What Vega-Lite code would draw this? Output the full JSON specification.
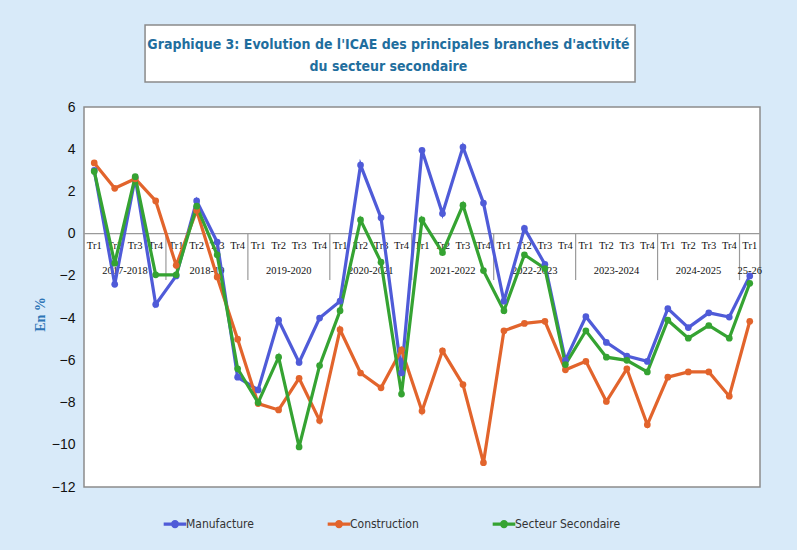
{
  "$schema": "https://vega.github.io/schema/vega-lite/v6.json",
  "width": 676,
  "height": 380,
  "autosize": {"type": "none"},
  "padding": {"left": 84, "top": 107, "right": 37, "bottom": 63},
  "background": "#d8eaf9",
  "config": {
    "view": {"fill": "white", "stroke": "#8c8c8c", "strokeWidth": 1.5},
    "font": "Liberation Sans"
  },
  "datasets": {
    "icae": [
      {"i": 1, "tr": "Tr1", "Manufacture": 3.0, "Construction": 3.35, "Secteur Secondaire": 2.95},
      {"i": 2, "tr": "Tr2", "Manufacture": -2.4, "Construction": 2.15, "Secteur Secondaire": -1.4},
      {"i": 3, "tr": "Tr3", "Manufacture": 2.65, "Construction": 2.6, "Secteur Secondaire": 2.7},
      {"i": 4, "tr": "Tr4", "Manufacture": -3.35, "Construction": 1.55, "Secteur Secondaire": -1.95},
      {"i": 5, "tr": "Tr1", "Manufacture": -2.0, "Construction": -1.5, "Secteur Secondaire": -1.95},
      {"i": 6, "tr": "Tr2", "Manufacture": 1.55, "Construction": 1.1, "Secteur Secondaire": 1.3},
      {"i": 7, "tr": "Tr3", "Manufacture": -0.4, "Construction": -2.05, "Secteur Secondaire": -1.0},
      {"i": 8, "tr": "Tr4", "Manufacture": -6.8, "Construction": -5.0, "Secteur Secondaire": -6.4},
      {"i": 9, "tr": "Tr1", "Manufacture": -7.4, "Construction": -8.05, "Secteur Secondaire": -8.0},
      {"i": 10, "tr": "Tr2", "Manufacture": -4.1, "Construction": -8.35, "Secteur Secondaire": -5.85},
      {"i": 11, "tr": "Tr3", "Manufacture": -6.1, "Construction": -6.85, "Secteur Secondaire": -10.1},
      {"i": 12, "tr": "Tr4", "Manufacture": -4.0, "Construction": -8.85, "Secteur Secondaire": -6.25},
      {"i": 13, "tr": "Tr1", "Manufacture": -3.2, "Construction": -4.55, "Secteur Secondaire": -3.65},
      {"i": 14, "tr": "Tr2", "Manufacture": 3.25, "Construction": -6.6, "Secteur Secondaire": 0.65},
      {"i": 15, "tr": "Tr3", "Manufacture": 0.75, "Construction": -7.3, "Secteur Secondaire": -1.35},
      {"i": 16, "tr": "Tr4", "Manufacture": -6.6, "Construction": -5.5, "Secteur Secondaire": -7.6},
      {"i": 17, "tr": "Tr1", "Manufacture": 3.95, "Construction": -8.4, "Secteur Secondaire": 0.65},
      {"i": 18, "tr": "Tr2", "Manufacture": 0.95, "Construction": -5.55, "Secteur Secondaire": -0.9},
      {"i": 19, "tr": "Tr3", "Manufacture": 4.1, "Construction": -7.15, "Secteur Secondaire": 1.35},
      {"i": 20, "tr": "Tr4", "Manufacture": 1.45, "Construction": -10.85, "Secteur Secondaire": -1.75},
      {"i": 21, "tr": "Tr1", "Manufacture": -3.2, "Construction": -4.6, "Secteur Secondaire": -3.65},
      {"i": 22, "tr": "Tr2", "Manufacture": 0.25, "Construction": -4.25, "Secteur Secondaire": -1.0},
      {"i": 23, "tr": "Tr3", "Manufacture": -1.45, "Construction": -4.15, "Secteur Secondaire": -1.65},
      {"i": 24, "tr": "Tr4", "Manufacture": -6.0, "Construction": -6.45, "Secteur Secondaire": -6.2},
      {"i": 25, "tr": "Tr1", "Manufacture": -3.93, "Construction": -6.05, "Secteur Secondaire": -4.6},
      {"i": 26, "tr": "Tr2", "Manufacture": -5.15, "Construction": -7.95, "Secteur Secondaire": -5.85},
      {"i": 27, "tr": "Tr3", "Manufacture": -5.8, "Construction": -6.4, "Secteur Secondaire": -6.0},
      {"i": 28, "tr": "Tr4", "Manufacture": -6.05, "Construction": -9.05, "Secteur Secondaire": -6.55},
      {"i": 29, "tr": "Tr1", "Manufacture": -3.55, "Construction": -6.8, "Secteur Secondaire": -4.1},
      {"i": 30, "tr": "Tr2", "Manufacture": -4.45, "Construction": -6.55, "Secteur Secondaire": -4.95},
      {"i": 31, "tr": "Tr3", "Manufacture": -3.75, "Construction": -6.55, "Secteur Secondaire": -4.35},
      {"i": 32, "tr": "Tr4", "Manufacture": -3.95, "Construction": -7.7, "Secteur Secondaire": -4.95},
      {"i": 33, "tr": "Tr1", "Manufacture": -2.0, "Construction": -4.15, "Secteur Secondaire": -2.35}
    ],
    "annees": [
      {"c": 2.5, "annee": "2017-2018"},
      {"c": 6.5, "annee": "2018-19"},
      {"c": 10.5, "annee": "2019-2020"},
      {"c": 14.5, "annee": "2020-2021"},
      {"c": 18.5, "annee": "2021-2022"},
      {"c": 22.5, "annee": "2022-2023"},
      {"c": 26.5, "annee": "2023-2024"},
      {"c": 30.5, "annee": "2024-2025"},
      {"c": 33, "annee": "25-26"}
    ],
    "separateurs": [
      {"s": 4.5}, {"s": 8.5}, {"s": 12.5}, {"s": 16.5}, {"s": 20.5}, {"s": 24.5}, {"s": 28.5}, {"s": 32.5}
    ],
    "titre": [
      {"l1": "Graphique 3: Evolution de l'ICAE des principales branches d'activité", "l2": "du secteur secondaire"}
    ]
  },
  "layer": [
    {
      "data": {"values": [{}]},
      "mark": {"type": "rect", "fill": "#9a9a9a", "xOffset": 3, "yOffset": 3, "opacity": 0.7},
      "encoding": {
        "x": {"datum": 3.48, "type": "quantitative", "scale": {"domain": [0.5, 33.5]}, "axis": null},
        "x2": {"datum": 27.4},
        "y": {"datum": 9.88, "type": "quantitative"},
        "y2": {"datum": 7.18}
      }
    },
    {
      "data": {"values": [{}]},
      "mark": {"type": "rect", "fill": "white", "stroke": "#8a8a8a", "strokeWidth": 1.5},
      "encoding": {
        "x": {"datum": 3.48, "type": "quantitative", "scale": {"domain": [0.5, 33.5]}, "axis": null},
        "x2": {"datum": 27.4},
        "y": {"datum": 9.88, "type": "quantitative"},
        "y2": {"datum": 7.18}
      }
    },
    {
      "data": {"name": "titre"},
      "mark": {
        "type": "text",
        "align": "center",
        "baseline": "middle",
        "font": "DejaVu Sans Condensed, Roboto, sans-serif",
        "fontSize": 14,
        "fontWeight": "bold",
        "color": "#1f6e9e"
      },
      "encoding": {
        "x": {"datum": 15.36, "type": "quantitative", "scale": {"domain": [0.5, 33.5]}, "axis": null},
        "y": {"datum": 8.94, "type": "quantitative"},
        "text": {"field": "l1"}
      }
    },
    {
      "data": {"name": "titre"},
      "mark": {
        "type": "text",
        "align": "center",
        "baseline": "middle",
        "font": "DejaVu Sans Condensed, Roboto, sans-serif",
        "fontSize": 14,
        "fontWeight": "bold",
        "color": "#1f6e9e"
      },
      "encoding": {
        "x": {"datum": 15.36, "type": "quantitative", "scale": {"domain": [0.5, 33.5]}, "axis": null},
        "y": {"datum": 7.89, "type": "quantitative"},
        "text": {"field": "l2"}
      }
    },
    {
      "data": {"values": [{}]},
      "mark": {"type": "rule", "color": "#9a9a9a", "strokeWidth": 1.2},
      "encoding": {"y": {"datum": 0, "type": "quantitative"}}
    },
    {
      "data": {"name": "separateurs"},
      "mark": {"type": "rule", "color": "#9a9a9a", "strokeWidth": 1.2},
      "encoding": {
        "x": {"field": "s", "type": "quantitative", "scale": {"domain": [0.5, 33.5]}, "axis": null},
        "y": {"datum": 0, "type": "quantitative"},
        "y2": {"datum": -2.2}
      }
    },
    {
      "data": {"name": "icae"},
      "mark": {"type": "text", "dy": 12, "font": "Liberation Serif", "fontSize": 10.5, "color": "#111"},
      "encoding": {
        "x": {"field": "i", "type": "quantitative", "scale": {"domain": [0.5, 33.5]}, "axis": null},
        "y": {"datum": 0, "type": "quantitative"},
        "text": {"field": "tr"}
      }
    },
    {
      "data": {"name": "annees"},
      "mark": {"type": "text", "dy": 37, "font": "Liberation Serif", "fontSize": 10.5, "color": "#111"},
      "encoding": {
        "x": {"field": "c", "type": "quantitative", "scale": {"domain": [0.5, 33.5]}, "axis": null},
        "y": {"datum": 0, "type": "quantitative"},
        "text": {"field": "annee"}
      }
    },
    {
      "data": {"name": "icae"},
      "transform": [{"fold": ["Manufacture", "Construction", "Secteur Secondaire"], "as": ["serie", "v"]}],
      "layer": [
        {
          "mark": {"type": "line"},
          "encoding": {
            "strokeWidth": {"field": "serie", "type": "nominal", "scale": {"domain": ["Manufacture", "Construction", "Secteur Secondaire"], "range": [3.2, 3.2, 2]}, "legend": null}
          }
        },
        {
          "mark": {"type": "point", "filled": true, "size": 45, "opacity": 1}
        }
      ],
      "encoding": {
        "x": {"field": "i", "type": "quantitative", "scale": {"domain": [0.5, 33.5]}, "axis": null},
        "y": {
          "field": "v",
          "type": "quantitative",
          "scale": {"domain": [-12, 6], "nice": false, "zero": false},
          "axis": {
            "values": [-12, -10, -8, -6, -4, -2, 0, 2, 4, 6],
            "title": "En %",
            "titleFont": "Liberation Serif",
            "titleFontSize": 14,
            "titleFontWeight": "bold",
            "titleColor": "#2e75b6",
            "titleX": -37,
            "titleY": 207,
            "labelFont": "Liberation Sans",
            "labelFontSize": 14,
            "labelColor": "#111",
            "ticks": false,
            "domain": false,
            "grid": false,
            "labelPadding": 9
          }
        },
        "color": {
          "field": "serie",
          "type": "nominal",
          "scale": {"domain": ["Manufacture", "Construction", "Secteur Secondaire"], "range": ["#4f5bd8", "#e2642c", "#35a332"]},
          "legend": {
            "orient": "none",
            "legendX": 82,
            "legendY": 408,
            "direction": "horizontal",
            "title": null,
            "columnPadding": 67,
            "labelFont": "DejaVu Sans Condensed, Roboto, sans-serif",
            "labelFontSize": 12,
            "labelColor": "#333",
            "labelOffset": 2,
            "symbolType": "M-1.6,0H1.6M-0.35,0a0.35,0.35 0 1,0 0.7,0a0.35,0.35 0 1,0 -0.7,0",
            "symbolSize": 200,
            "symbolStrokeWidth": 2.5
          }
        }
      }
    }
  ]
}
